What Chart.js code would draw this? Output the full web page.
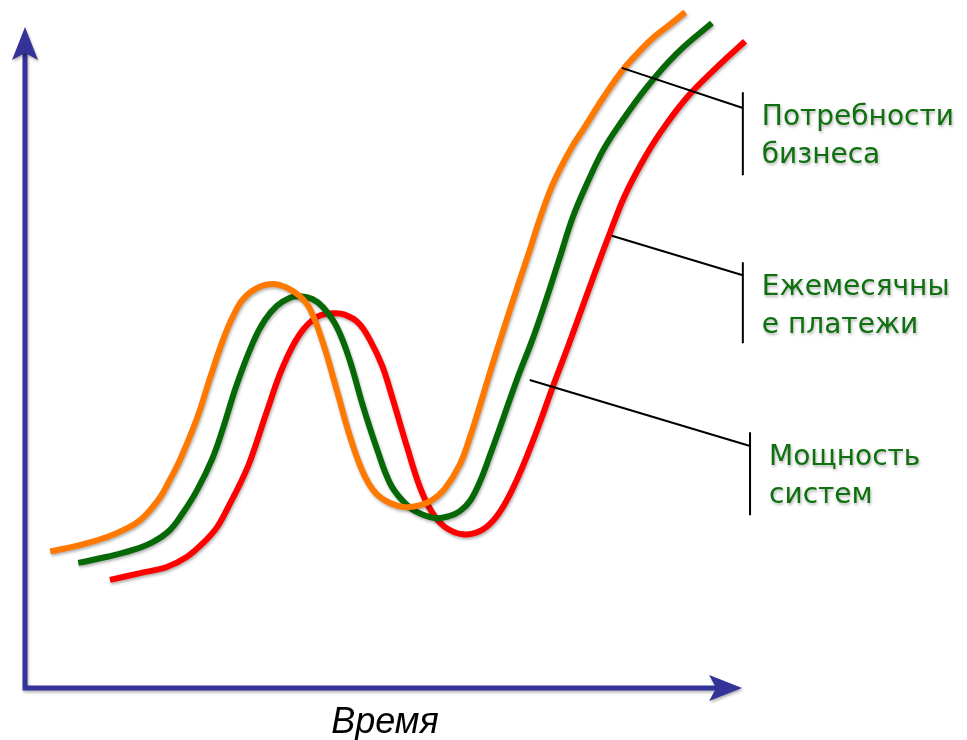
<!DOCTYPE html>
<html>
<head>
<meta charset="utf-8">
<script src="https://cdn.jsdelivr.net/npm/chart.js@4/dist/chart.umd.min.js"></script>
<style>
  html, body { margin: 0; padding: 0; background: #fff; }
  #wrap { width: 967px; height: 740px; position: relative; }
</style>
</head>
<body>
<div id="wrap"><canvas id="chart"></canvas></div>
<script>
// curves (x = time, y = level, both 0..100)
const needsX    = [3.5, 7.6, 11.4, 14.2, 16.0, 17.4, 18.8, 20.1, 21.5, 23.9, 25.7, 27.5, 28.9, 30.3, 32.2, 34.4, 36.5, 38.2, 39.6, 41.4, 43.3, 45.1, 46.9, 48.6, 50.7, 52.8, 54.9, 56.5, 58.3, 60.4, 61.8, 63.2, 64.6, 66.4, 68.3, 70.1, 71.5, 73.3, 75.7, 77.8, 80.3, 83.1, 85.4, 87.2, 89.6, 91.7];
const needsY    = [20.1, 21.0, 22.2, 23.5, 24.7, 26.2, 28.1, 30.6, 33.5, 39.7, 45.6, 51.2, 54.7, 57.2, 58.8, 59.4, 58.8, 57.6, 55.7, 50.7, 43.8, 37.1, 31.8, 28.8, 27.2, 26.6, 26.9, 27.6, 29.3, 32.9, 36.9, 41.6, 46.5, 52.5, 58.7, 64.4, 69.0, 74.1, 79.1, 82.6, 86.8, 91.0, 93.7, 95.6, 97.6, 99.4];
const paymentsX = [7.4, 11.4, 15.0, 17.8, 20.1, 21.9, 23.9, 26.0, 27.5, 29.4, 31.7, 33.3, 35.0, 36.8, 38.2, 39.9, 41.4, 43.3, 45.1, 46.9, 48.9, 50.7, 52.4, 54.2, 56.9, 59.0, 60.4, 61.8, 63.2, 64.6, 66.0, 68.3, 70.6, 72.5, 74.3, 76.1, 78.1, 80.3, 82.6, 86.4, 90.6, 95.4];
const paymentsY = [18.4, 19.3, 20.3, 21.5, 23.2, 25.7, 29.1, 33.7, 38.2, 44.6, 50.9, 54.1, 56.2, 57.4, 57.6, 57.2, 56.0, 53.1, 48.2, 41.6, 35.1, 30.1, 27.6, 26.0, 25.0, 25.3, 26.0, 27.5, 30.4, 34.3, 38.4, 45.3, 51.6, 57.5, 63.4, 69.3, 74.3, 79.1, 82.9, 88.4, 93.4, 97.8];
const capacityX = [11.8, 16.0, 19.7, 22.5, 24.7, 26.7, 28.5, 29.9, 31.3, 33.6, 35.8, 38.2, 40.6, 42.8, 44.4, 46.3, 47.9, 49.6, 51.1, 53.1, 54.9, 56.5, 58.3, 60.8, 63.2, 65.0, 66.7, 68.3, 69.9, 71.5, 73.3, 75.3, 77.1, 79.2, 81.3, 83.3, 85.8, 88.2, 91.9, 96.1, 100.0];
const capacityY = [15.9, 16.9, 17.8, 19.3, 21.3, 23.7, 27.2, 30.1, 33.5, 40.7, 47.2, 52.1, 54.6, 55.1, 54.9, 53.7, 51.2, 47.4, 42.4, 35.3, 29.4, 25.9, 23.7, 22.6, 23.1, 24.6, 27.2, 30.6, 34.6, 39.0, 44.3, 49.9, 55.1, 61.2, 67.1, 72.4, 77.5, 81.6, 86.8, 91.3, 95.1];

// callouts: leader line start, bracket x, leader end y, bracket top/bottom y
const labels      = [["Потребности", "бизнеса"], ["Ежемесячны", "е платежи"], ["Мощность", "систем"]];
const leaderFromX = [82.9, 81.5, 70.1];
const leaderFromY = [91.2, 66.5, 45.3];
const bracketX    = [99.7, 99.7, 100.7];
const leaderToY   = [85.3, 60.7, 35.6];
const bracketTop  = [87.6, 62.6, 37.6];
const bracketBot  = [75.4, 50.7, 25.4];

const axisTitle = "Время";
const yAxisTip = 97.2;
const xAxisTip = 99.6;

const toPoints = (xs, ys) => xs.map((x, i) => ({ x: x, y: ys[i] }));

const AXIS_COLOR = "#333399";

function softShadow(ctx) {
    ctx.shadowColor = "rgba(0,0,0,0.3)";
    ctx.shadowBlur = 3;
    ctx.shadowOffsetX = 1;
    ctx.shadowOffsetY = 2;
}

const drawArrowAxes = {
    id: "drawArrowAxes",
    beforeDatasetsDraw(chart) {
        const { ctx, chartArea, scales } = chart;
        const x0 = chartArea.left, y0 = chartArea.bottom;
        const topY = scales.y.getPixelForValue(yAxisTip);
        const endX = scales.x.getPixelForValue(xAxisTip);
        ctx.save();
        softShadow(ctx);
        ctx.strokeStyle = AXIS_COLOR;
        ctx.fillStyle = AXIS_COLOR;
        ctx.lineWidth = 5;
        ctx.beginPath();
        ctx.moveTo(x0, topY + 24);
        ctx.lineTo(x0, y0);
        ctx.lineTo(endX - 24, y0);
        ctx.stroke();
        // up arrow
        ctx.beginPath();
        ctx.moveTo(x0, topY);
        ctx.lineTo(x0 - 13, topY + 33);
        ctx.lineTo(x0, topY + 26);
        ctx.lineTo(x0 + 13, topY + 33);
        ctx.closePath();
        ctx.fill();
        // right arrow
        ctx.beginPath();
        ctx.moveTo(endX, y0);
        ctx.lineTo(endX - 33, y0 - 13);
        ctx.lineTo(endX - 26, y0);
        ctx.lineTo(endX - 33, y0 + 13);
        ctx.closePath();
        ctx.fill();
        ctx.restore();

        ctx.save();
        ctx.fillStyle = "#000";
        ctx.font = "italic 36px 'Liberation Sans', Arial, sans-serif";
        ctx.textAlign = "center";
        ctx.textBaseline = "alphabetic";
        ctx.fillText(axisTitle, scales.x.getPixelForValue(50), y0 + 45);
        ctx.restore();

        // shadow for the curves, undone after they are drawn
        ctx.save();
        softShadow(ctx);
    },
    afterDatasetsDraw(chart) {
        const { ctx, scales } = chart;
        ctx.restore();
        const X = v => scales.x.getPixelForValue(v);
        const Y = v => scales.y.getPixelForValue(v);
        ctx.save();
        ctx.strokeStyle = "#000";
        ctx.lineWidth = 2;
        labels.forEach((lines, i) => {
            ctx.beginPath();
            ctx.moveTo(X(leaderFromX[i]), Y(leaderFromY[i]));
            ctx.lineTo(X(bracketX[i]), Y(leaderToY[i]));
            ctx.moveTo(X(bracketX[i]), Y(bracketTop[i]));
            ctx.lineTo(X(bracketX[i]), Y(bracketBot[i]));
            ctx.stroke();
        });
        ctx.restore();

        ctx.save();
        ctx.fillStyle = "#0e700e";
        ctx.font = "28px 'DejaVu Sans', Verdana, sans-serif";
        ctx.textBaseline = "middle";
        softShadow(ctx);
        labels.forEach((lines, i) => {
            const tx = X(bracketX[i]) + 19;
            const ty = Y(bracketTop[i]);
            lines.forEach((t, j) => ctx.fillText(t, tx, ty + 25 + j * 38));
        });
        ctx.restore();
    }
};

const lineStyle = { borderWidth: 6, tension: 0.4, capBezierPoints: false, pointRadius: 0, fill: false, borderCapStyle: "butt", borderJoinStyle: "round" };

new Chart(document.getElementById("chart"), {
    type: "line",
    data: {
        datasets: [
            { label: "Потребности бизнеса", data: toPoints(needsX, needsY), borderColor: "#ff7800", ...lineStyle },
            { label: "Ежемесячные платежи", data: toPoints(paymentsX, paymentsY), borderColor: "#066806", ...lineStyle },
            { label: "Мощность систем", data: toPoints(capacityX, capacityY), borderColor: "#ff0000", ...lineStyle }
        ]
    },
    options: {
        responsive: true,
        maintainAspectRatio: false,
        animation: false,
        layout: { padding: { left: 25, top: 8, right: 222, bottom: 52 } },
        clip: false,
        plugins: { legend: { display: false }, tooltip: { enabled: false } },
        scales: {
            x: { type: "linear", min: 0, max: 100, display: false },
            y: { min: 0, max: 100, display: false }
        }
    },
    plugins: [drawArrowAxes]
});
</script>
</body>
</html>
